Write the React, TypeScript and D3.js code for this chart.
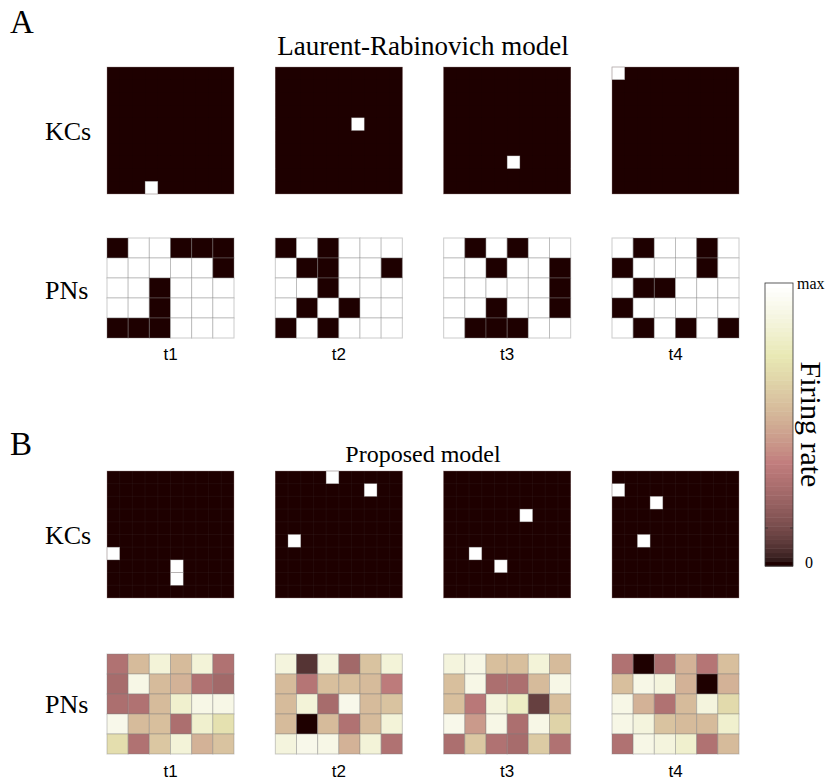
import React from "react";
import * as d3 from "d3";

// ---------- DATA ----------
const timeLabels = ["t1", "t2", "t3", "t4"];

// Panel A: KC active cell per time step [row, col] in a 10x10 grid
const kcActiveA: [number, number][][] = [
  [[9, 3]],
  [[4, 6]],
  [[7, 5]],
  [[0, 0]],
];

// Panel A: PN binary activity (1 = silent/dark, 0 = active/white), 5 rows x 6 cols
const pnA: number[][][] = [
  [
    [1, 0, 0, 1, 1, 1],
    [0, 0, 0, 0, 0, 1],
    [0, 0, 1, 0, 0, 0],
    [0, 0, 1, 0, 0, 0],
    [1, 1, 1, 0, 0, 0],
  ],
  [
    [1, 0, 1, 0, 0, 0],
    [0, 1, 1, 0, 0, 1],
    [0, 0, 1, 0, 0, 0],
    [0, 1, 0, 1, 0, 0],
    [1, 0, 1, 0, 0, 0],
  ],
  [
    [0, 1, 0, 1, 0, 0],
    [0, 0, 1, 0, 0, 1],
    [0, 0, 0, 0, 0, 1],
    [0, 0, 1, 0, 0, 1],
    [0, 1, 1, 1, 0, 0],
  ],
  [
    [0, 1, 0, 0, 1, 0],
    [1, 0, 0, 0, 1, 0],
    [0, 1, 1, 0, 0, 0],
    [1, 0, 0, 0, 0, 0],
    [0, 1, 0, 1, 0, 1],
  ],
];

// Panel B: KC active cells per time step [row, col]
const kcActiveB: [number, number][][] = [
  [[6, 0], [7, 5], [8, 5]],
  [[0, 4], [1, 7], [5, 1]],
  [[3, 6], [6, 2], [7, 4]],
  [[1, 0], [2, 3], [5, 2]],
];

// Panel B: PN firing rates (0..1), 5 rows x 6 cols
const pnB: number[][][] = [
  [
    [0.3, 0.55, 0.85, 0.55, 0.85, 0.3],
    [0.27, 0.9, 0.55, 0.53, 0.3, 0.26],
    [0.28, 0.3, 0.55, 0.82, 0.9, 0.9],
    [0.92, 0.55, 0.57, 0.28, 0.83, 0.72],
    [0.7, 0.3, 0.6, 0.85, 0.53, 0.58],
  ],
  [
    [0.88, 0.06, 0.87, 0.25, 0.58, 0.86],
    [0.55, 0.32, 0.57, 0.57, 0.56, 0.35],
    [0.55, 0.85, 0.27, 0.92, 0.56, 0.58],
    [0.55, 0.0, 0.55, 0.3, 0.56, 0.86],
    [0.87, 0.92, 0.9, 0.53, 0.85, 0.3],
  ],
  [
    [0.88, 0.9, 0.57, 0.57, 0.86, 0.55],
    [0.57, 0.9, 0.28, 0.28, 0.55, 0.9],
    [0.57, 0.33, 0.88, 0.8, 0.1, 0.57],
    [0.92, 0.45, 0.9, 0.28, 0.9, 0.65],
    [0.28, 0.6, 0.3, 0.27, 0.62, 0.3],
  ],
  [
    [0.3, 0.0, 0.28, 0.53, 0.32, 0.57],
    [0.57, 0.9, 0.88, 0.53, 0.0, 0.53],
    [0.9, 0.53, 0.3, 0.55, 0.88, 0.68],
    [0.9, 0.88, 0.58, 0.56, 0.55, 0.83],
    [0.3, 0.9, 0.88, 0.82, 0.3, 0.55],
  ],
];

const colorbarTicks = ["0", "max"];

// ---------- COLORMAP (MATLAB "pink", 64 levels) ----------
const N_LEVELS = 64;
function pinkLevel(k: number): string {
  const gray = k / (N_LEVELS - 1);
  const n = 24;
  const hr = Math.min(1, (k + 1) / n);
  const hg = Math.max(0, Math.min(1, (k + 1 - n) / n));
  const hb = Math.max(0, Math.min(1, (k + 1 - 2 * n) / (N_LEVELS - 2 * n)));
  const r = Math.sqrt((2 * gray + hr) / 3);
  const g = Math.sqrt((2 * gray + hg) / 3);
  const b = Math.sqrt((2 * gray + hb) / 3);
  return d3.rgb(r * 255, g * 255, b * 255).formatHex();
}
function pinkColor(v: number): string {
  const k = Math.max(0, Math.min(N_LEVELS - 1, Math.round(v * (N_LEVELS - 1))));
  return pinkLevel(k);
}
const DARK = pinkLevel(0);

// ---------- LAYOUT ----------
const W = 829;
const H = 782;
const colX = d3.scaleLinear().domain([0, 3]).range([107, 612]);
const gridW = 127;

function KCGrid({ x0, y0, active, lines }: { x0: number; y0: number; active: [number, number][]; lines: string }) {
  const xs = d3.scaleBand<number>().domain(d3.range(10)).range([x0, x0 + gridW]);
  const ys = d3.scaleBand<number>().domain(d3.range(10)).range([y0, y0 + 127]);
  const cells: JSX.Element[] = [];
  for (let r = 0; r < 10; r++) {
    for (let c = 0; c < 10; c++) {
      const on = active.some(([ar, ac]) => ar === r && ac === c);
      if (on) continue;
      cells.push(
        <rect key={`${r}-${c}`} x={xs(c)} y={ys(r)} width={xs.bandwidth()} height={ys.bandwidth()} fill={DARK} />
      );
    }
  }
  const gl = d3.range(1, 10);
  return (
    <g>
      <rect x={x0} y={y0} width={gridW} height={127} fill={DARK} />
      {cells}
      {lines !== "none" &&
        gl.map((i) => (
          <g key={i}>
            <line x1={xs(i)} x2={xs(i)} y1={y0} y2={y0 + 127} stroke={lines} strokeWidth={0.6} />
            <line x1={x0} x2={x0 + gridW} y1={ys(i)} y2={ys(i)} stroke={lines} strokeWidth={0.6} />
          </g>
        ))}
      {active.map(([r, c]) => (
        <rect key={`w${r}-${c}`} x={xs(c)} y={ys(r)} width={xs.bandwidth()} height={ys.bandwidth()} fill="#fff" stroke="rgba(150,150,150,0.5)" strokeWidth={0.6} />
      ))}
      <rect x={x0} y={y0} width={gridW} height={127} fill="none" stroke="rgba(150,130,130,0.6)" strokeWidth={0.6} />
    </g>
  );
}

function PNGrid({ x0, y0, vals }: { x0: number; y0: number; vals: number[][] }) {
  const xs = d3.scaleBand<number>().domain(d3.range(6)).range([x0, x0 + gridW]);
  const ys = d3.scaleBand<number>().domain(d3.range(5)).range([y0, y0 + 100]);
  return (
    <g>
      {vals.map((row, r) =>
        row.map((v, c) => (
          <rect
            key={`${r}-${c}`}
            x={xs(c)}
            y={ys(r)}
            width={xs.bandwidth()}
            height={ys.bandwidth()}
            fill={pinkColor(v)}
            stroke="rgba(128,128,128,0.4)"
            strokeWidth={1}
          />
        ))
      )}
    </g>
  );
}

const serif = "'Liberation Serif', 'Times New Roman', serif";
const sans = "'Liberation Sans', Arial, sans-serif";

export default function App() {
  const cbX = 765;
  const cbW = 28;
  const cbTop = 283;
  const cbBot = 566;
  const cbScale = d3.scaleLinear().domain([0, N_LEVELS]).range([cbBot, cbTop]);
  const levels = d3.range(N_LEVELS);

  return (
    <svg width={W} height={H} style={{ position: "absolute", left: 0, top: 0, background: "#fff" }}>
      <rect x={0} y={0} width={W} height={H} fill="#fff" />
      {/* Panel letters */}
      <text x={10} y={33} fontFamily={serif} fontSize={33}>A</text>
      <text x={10} y={455} fontFamily={serif} fontSize={33}>B</text>

      {/* Titles */}
      <text x={423} y={55} textAnchor="middle" fontFamily={serif} fontSize={27}>
        Laurent-Rabinovich model
      </text>
      <text x={423} y={462} textAnchor="middle" fontFamily={serif} fontSize={24}>
        Proposed model
      </text>

      {/* Row labels */}
      <text x={45} y={140} fontFamily={serif} fontSize={26}>KCs</text>
      <text x={45} y={299} fontFamily={serif} fontSize={26}>PNs</text>
      <text x={45} y={544} fontFamily={serif} fontSize={26}>KCs</text>
      <text x={45} y={713} fontFamily={serif} fontSize={26}>PNs</text>

      {timeLabels.map((t, i) => (
        <g key={t}>
          <KCGrid x0={colX(i)} y0={67} active={kcActiveA[i]} lines="none" />
          <PNGrid x0={colX(i)} y0={238} vals={pnA[i].map((row) => row.map((v) => (v ? 0 : 1)))} />
          <text x={colX(i) + gridW / 2} y={360} textAnchor="middle" fontFamily={sans} fontSize={17}>{t}</text>
          <KCGrid x0={colX(i)} y0={471} active={kcActiveB[i]} lines="rgba(140,140,140,0.13)" />
          <PNGrid x0={colX(i)} y0={654} vals={pnB[i]} />
          <text x={colX(i) + gridW / 2} y={777} textAnchor="middle" fontFamily={sans} fontSize={17}>{t}</text>
        </g>
      ))}

      {/* Colorbar */}
      <g>
        {levels.map((k) => (
          <rect
            key={k}
            x={cbX}
            y={cbScale(k + 1)}
            width={cbW}
            height={cbScale(k) - cbScale(k + 1) + 0.5}
            fill={pinkLevel(k)}
          />
        ))}
        <rect x={cbX} y={cbTop} width={cbW} height={cbBot - cbTop} fill="none" stroke="#333" strokeWidth={0.8} />
        <line x1={cbX} x2={cbX + 3} y1={528} y2={528} stroke="#333" strokeWidth={0.8} />
        <line x1={cbX + cbW - 3} x2={cbX + cbW} y1={528} y2={528} stroke="#333" strokeWidth={0.8} />
        <text x={797} y={cbTop + 6} fontFamily={serif} fontSize={16}>{colorbarTicks[1]}</text>
        <text x={805} y={cbBot + 2} fontFamily={serif} fontSize={16}>{colorbarTicks[0]}</text>
        <text
          transform={`translate(801, ${(cbTop + cbBot) / 2}) rotate(90)`}
          textAnchor="middle"
          fontFamily={serif}
          fontSize={30}
        >
          Firing rate
        </text>
      </g>
    </svg>
  );
}
